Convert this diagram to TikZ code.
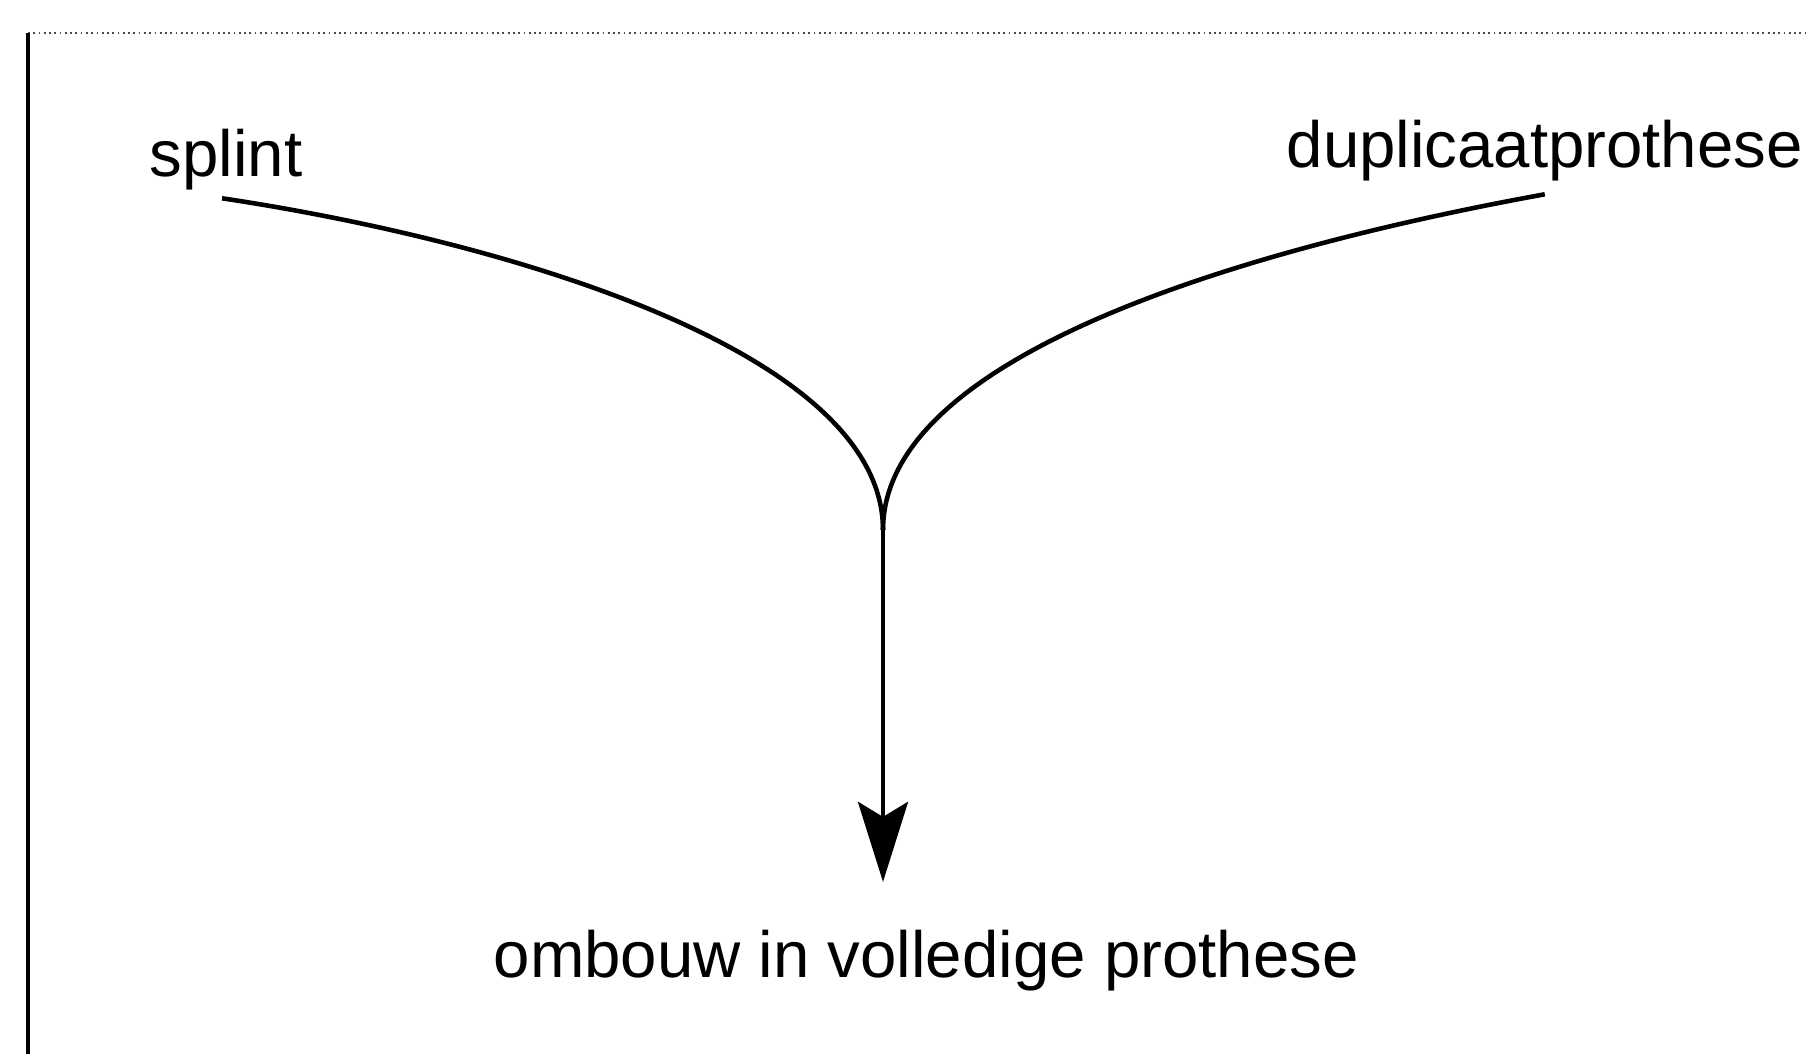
\documentclass[tikz,border=0pt]{standalone}
\usepackage{fontspec}
\setmainfont{Liberation Sans}
\usetikzlibrary{arrows.meta}

\begin{document}
\begin{tikzpicture}[
  lbl/.style={inner sep=2pt, font=\fontsize{18.6}{22}\selectfont},
  wire/.style={line width=1.3pt},
  >={Stealth[length=8mm, width=5mm, inset=1.5mm]}
]
\useasboundingbox (0,0) rectangle (18.06,10.54);
\coordinate (corner) at (0.28,10.21);
\draw[densely dotted, line width=0.5pt, black!70] (corner) -- (18.06,10.21);
\draw[line width=1.2pt] (corner) -- (0.28,0);
\node[lbl, anchor=base west] (splint) at (1.42,8.77) {splint};
\node[lbl, anchor=base west] (dup) at (12.79,8.86) {duplicaatprothese};
\node[lbl, anchor=base west] (ombouw) at (4.86,0.76) {ombouw in volledige prothese};
\coordinate (merge) at (8.83,5.24);
\draw[wire] ([xshift=-0.4mm]splint.south) .. controls (5.00,8.14) and (8.83,7.04) .. (merge);
\draw[wire] ([yshift=-0.5mm]dup.south) .. controls (12.66,8.09) and (8.83,7.04) .. (merge);
\draw[wire, ->, shorten >=4.1mm] (merge) -- (merge |- ombouw.north);
\end{tikzpicture}
\end{document}
